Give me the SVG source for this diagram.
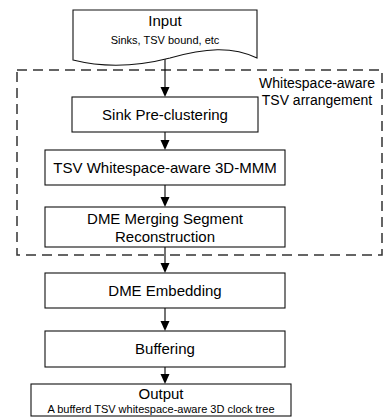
<svg xmlns="http://www.w3.org/2000/svg" width="388" height="417" viewBox="0 0 388 417">
<defs>
<path id="ah" d="M-4.5,-10 L4.5,-10 L0,0 Z" fill="#000"/>
</defs>
<style>
.box{fill:#fff;stroke:#111;stroke-width:1.1}
.t{font-family:"Liberation Sans",Arial,sans-serif;font-size:15px;fill:#000;text-anchor:middle}
.s{font-family:"Liberation Sans",Arial,sans-serif;font-size:11px;fill:#000;text-anchor:middle}
.c{stroke:#000;stroke-width:1.1;fill:none}
.dash{fill:none;stroke:#333;stroke-width:1.5;stroke-dasharray:10 6}
</style>
<g id="group-tsv">
<rect class="dash" x="17" y="70" width="365" height="185"/>
<text class="t" style="font-size:14px" x="317" y="88">Whitespace-aware</text>
<text class="t" style="font-size:14px" x="317" y="105">TSV arrangement</text>
</g>
<g id="connectors">
<line class="c" x1="165" y1="57" x2="165" y2="90"/>
<use href="#ah" x="165" y="97"/>
<line class="c" x1="165" y1="132" x2="165" y2="143"/>
<use href="#ah" x="165" y="150"/>
<line class="c" x1="165" y1="185" x2="165" y2="200"/>
<use href="#ah" x="165" y="207"/>
<line class="c" x1="165" y1="247" x2="165" y2="266"/>
<use href="#ah" x="165" y="273"/>
<line class="c" x1="165" y1="308" x2="165" y2="324"/>
<use href="#ah" x="165" y="331"/>
<line class="c" x1="165" y1="367" x2="165" y2="377"/>
<use href="#ah" x="165" y="384"/>
</g>
<g id="input">
<path class="box" d="M73,10 H257 V58 C232,46 205,48 170,58 C135,67 105,68 73,60 Z"/>
<text class="t" x="165" y="26">Input</text>
<text class="s" x="165" y="44">Sinks, TSV bound, etc</text>
</g>
<g id="sink">
<rect class="box" x="72" y="97" width="186" height="35"/>
<text class="t" x="165" y="120">Sink Pre-clustering</text>
</g>
<g id="mmm">
<rect class="box" x="45" y="150" width="240" height="35"/>
<text class="t" x="165" y="173">TSV Whitespace-aware 3D-MMM</text>
</g>
<g id="dme-merge">
<rect class="box" x="45" y="207" width="240" height="40"/>
<text class="t" x="165" y="224">DME Merging Segment</text>
<text class="t" x="165" y="242">Reconstruction</text>
</g>
<g id="dme-embed">
<rect class="box" x="45" y="273" width="240" height="35"/>
<text class="t" x="165" y="296">DME Embedding</text>
</g>
<g id="buffering">
<rect class="box" x="45" y="331" width="240" height="36"/>
<text class="t" x="165" y="354">Buffering</text>
</g>
<g id="output">
<rect class="box" x="31" y="384" width="260" height="32"/>
<text class="t" x="161" y="399">Output</text>
<text class="s" x="161" y="413">A bufferd TSV whitespace-aware 3D clock tree</text>
</g>
</svg>
